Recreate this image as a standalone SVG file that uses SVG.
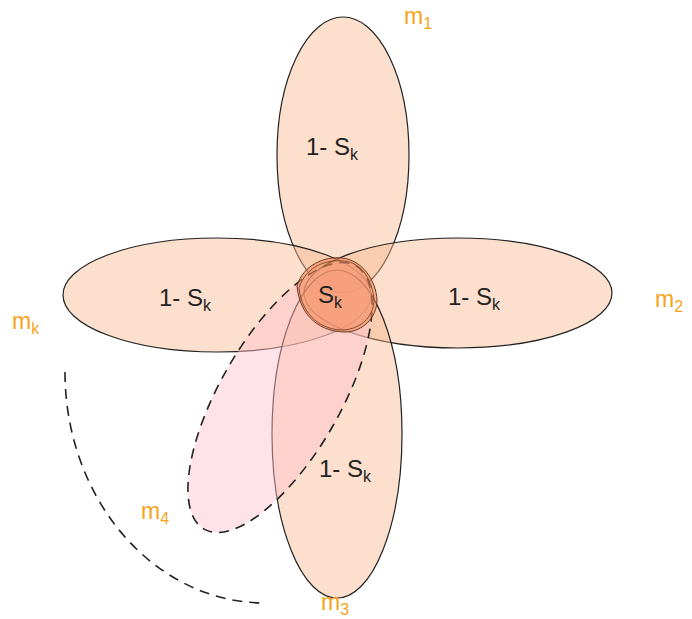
<svg xmlns="http://www.w3.org/2000/svg" width="692" height="619" viewBox="0 0 692 619">
<style>
.pet{fill:#f9b98f;fill-opacity:0.45;stroke:#222;stroke-width:1.2}
.lbl{font-family:"Liberation Sans",Arial,sans-serif;font-size:24px;fill:#222}
.m{font-family:"Liberation Sans",Arial,sans-serif;font-size:23px;fill:#f7a21b}
.dash{fill:none;stroke:#222;stroke-width:1.6;stroke-dasharray:10,7}
</style>
<rect width="692" height="619" fill="#fff"/>
<g id="m1-petal"><ellipse class="pet" cx="343" cy="155" rx="66" ry="138"/></g>
<g id="mk-petal"><ellipse class="pet" cx="217" cy="295" rx="154" ry="57"/></g>
<g id="m2-petal"><ellipse class="pet" cx="458" cy="293" rx="154" ry="55"/></g>
<g id="m3-petal"><ellipse class="pet" cx="337" cy="434" rx="65" ry="164"/></g>
<g id="m4-petal"><ellipse cx="280" cy="397.5" rx="152" ry="60" transform="rotate(-60 280 397.5)" fill="#ffc0cc" fill-opacity="0.45" stroke="#222" stroke-width="1.6" stroke-dasharray="10,7"/></g>
<g id="sk-core">
<path d="M297,286 C303,265 325,256 342,258 C362,260 376,280 377,300 C377,318 362,332 345,332 C322,332 300,318 297,286 Z" fill="#f48a5a" fill-opacity="0.6" stroke="#6a3a20" stroke-width="1"/>
<path d="M299,288 C306,266 327,259 344,261 C363,263 373,282 374,301 C373,318 360,329 343,330 C322,330 302,316 299,288 Z" fill="none" stroke="#6a3a20" stroke-width="0.8"/>
<text class="lbl" x="318" y="303">S<tspan dy="5" font-size="16">k</tspan></text>
</g>
<g id="connectors">
<path class="dash" d="M65,372 A200 231 0 0 0 265,603"/>
</g>
<g id="labels">
<text class="lbl" x="306" y="155">1- S<tspan dy="5" font-size="16">k</tspan></text>
<text class="lbl" x="159" y="306">1- S<tspan dy="5" font-size="16">k</tspan></text>
<text class="lbl" x="448" y="305">1- S<tspan dy="5" font-size="16">k</tspan></text>
<text class="lbl" x="319" y="477">1- S<tspan dy="5" font-size="16">k</tspan></text>
<text class="m" x="404" y="24">m<tspan dy="5" font-size="16">1</tspan></text>
<text class="m" x="655" y="307">m<tspan dy="5" font-size="16">2</tspan></text>
<text class="m" x="12" y="329">m<tspan dy="5" font-size="16">k</tspan></text>
<text class="m" x="141" y="519">m<tspan dy="5" font-size="16">4</tspan></text>
<text class="m" x="321" y="610">m<tspan dy="5" font-size="16">3</tspan></text>
</g>
</svg>
